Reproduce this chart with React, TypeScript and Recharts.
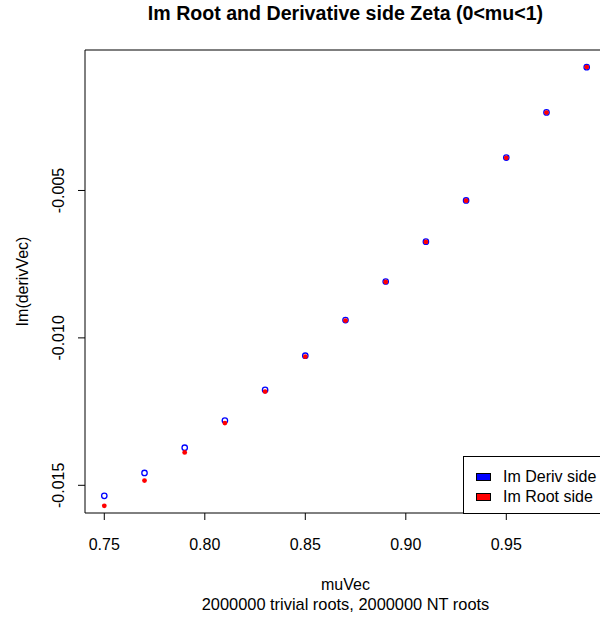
import {
  ScatterChart,
  Scatter,
  XAxis,
  YAxis,
  ReferenceLine,
} from "recharts";

const muVec = [0.75, 0.77, 0.79, 0.81, 0.83, 0.85, 0.87, 0.89, 0.91, 0.93, 0.95, 0.97, 0.99];
const imDerivSide = [
  -0.015358, -0.014581, -0.013725, -0.012802, -0.011764, -0.010604, -0.009396,
  -0.008088, -0.006735, -0.005338, -0.003884, -0.002352, -0.000817,
];
const imRootSide = [
  -0.015697, -0.014841, -0.013884, -0.01289, -0.011821, -0.010638, -0.009413,
  -0.008105, -0.006745, -0.005345, -0.003891, -0.002359, -0.000813,
];
const xTicks = [0.75, 0.8, 0.85, 0.9, 0.95];
const yTicks = [-0.015, -0.01, -0.005];

const FONT = "'Liberation Sans', Arial, sans-serif";

// R-style axis range: data range padded by 4% each side
const pad = (vals: number[]): [number, number] => {
  const lo = Math.min(...vals);
  const hi = Math.max(...vals);
  const d = (hi - lo) * 0.04;
  return [lo - d, hi + d];
};

const xDomain = pad(muVec);
const yDomain = pad(imDerivSide);

const derivData = muVec.map((mu, i) => ({ x: mu, y: imDerivSide[i] }));
const rootData = muVec.map((mu, i) => ({ x: mu, y: imRootSide[i] }));

const XTick = ({ x, y, payload }: any) => (
  <text x={x} y={y + 28} textAnchor="middle" fontSize={16} fontFamily={FONT} fill="#000">
    {payload.value.toFixed(2)}
  </text>
);

const YTick = ({ x, y, payload }: any) => {
  const bx = x - 12;
  return (
    <text
      x={bx}
      y={y}
      textAnchor="middle"
      fontSize={16}
      fontFamily={FONT}
      fill="#000"
      transform={`rotate(-90, ${bx}, ${y})`}
    >
      {payload.value.toFixed(3)}
    </text>
  );
};

const XLabel = ({ viewBox }: any) => {
  const cx = viewBox.x + viewBox.width / 2;
  return (
    <g fontFamily={FONT} fill="#000" textAnchor="middle">
      <text x={cx} y={viewBox.y + 77} fontSize={16}>muVec</text>
      <text x={cx} y={viewBox.y + 97} fontSize={16.4}>2000000 trivial roots, 2000000 NT roots</text>
    </g>
  );
};

const YLabel = ({ viewBox }: any) => {
  const bx = viewBox.x + 3;
  const cy = viewBox.y + viewBox.height / 2;
  return (
    <text
      x={bx}
      y={cy}
      textAnchor="middle"
      fontSize={16}
      fontFamily={FONT}
      fill="#000"
      transform={`rotate(-90, ${bx}, ${cy})`}
    >
      Im(derivVec)
    </text>
  );
};

const OpenCircle = ({ cx, cy }: any) => (
  <circle cx={cx} cy={cy} r={2.7} fill="none" stroke="#0000ff" strokeWidth={1.3} />
);

const Dot = ({ cx, cy }: any) => <circle cx={cx} cy={cy} r={2.4} fill="#ff0000" />;

export default function App() {
  return (
    <div
      style={{
        position: "fixed",
        left: 0,
        top: 0,
        width: 600,
        height: 617,
        overflow: "hidden",
        background: "#fff",
        fontFamily: FONT,
      }}
    >
      <div
        style={{
          position: "absolute",
          left: 85,
          width: 521,
          top: 2,
          textAlign: "center",
          fontWeight: "bold",
          fontSize: 19.6,
        }}
      >
        Im Root and Derivative side Zeta (0&lt;mu&lt;1)
      </div>
      <ScatterChart
        width={640}
        height={617}
        margin={{ top: 50, right: 34, left: 25, bottom: 44 }}
      >
        <XAxis
          type="number"
          dataKey="x"
          domain={xDomain}
          ticks={xTicks}
          tickSize={7}
          tick={<XTick />}
          axisLine={{ stroke: "#000" }}
          tickLine={{ stroke: "#000" }}
          height={60}
          allowDataOverflow
          label={<XLabel />}
        />
        <YAxis
          type="number"
          dataKey="y"
          domain={yDomain}
          ticks={yTicks}
          tickSize={7}
          tick={<YTick />}
          axisLine={{ stroke: "#000" }}
          tickLine={{ stroke: "#000" }}
          width={60}
          allowDataOverflow
          label={<YLabel />}
        />
        {/* box: top and right edges */}
        <ReferenceLine y={yDomain[1]} stroke="#000" strokeWidth={1.2} ifOverflow="visible" />
        <ReferenceLine x={xDomain[1]} stroke="#000" strokeWidth={1.2} ifOverflow="visible" />
        <Scatter data={derivData} shape={<OpenCircle />} isAnimationActive={false} />
        <Scatter data={rootData} shape={<Dot />} isAnimationActive={false} />
      </ScatterChart>
      <div
        style={{
          position: "absolute",
          left: 463,
          top: 456,
          width: 160,
          height: 56,
          border: "1px solid #000",
          background: "#fff",
          fontSize: 16,
        }}
      >
        {[
          { name: "Im Deriv side", color: "#0000ff", top: 10 },
          { name: "Im Root side", color: "#ff0000", top: 30 },
        ].map((it) => (
          <div key={it.name} style={{ position: "absolute", left: 12, top: it.top, height: 20, display: "flex", alignItems: "center" }}>
            <span style={{ width: 13, height: 6, border: "1px solid #000", background: it.color, display: "inline-block" }} />
            <span style={{ marginLeft: 12, lineHeight: "20px" }}>{it.name}</span>
          </div>
        ))}
      </div>
    </div>
  );
}
